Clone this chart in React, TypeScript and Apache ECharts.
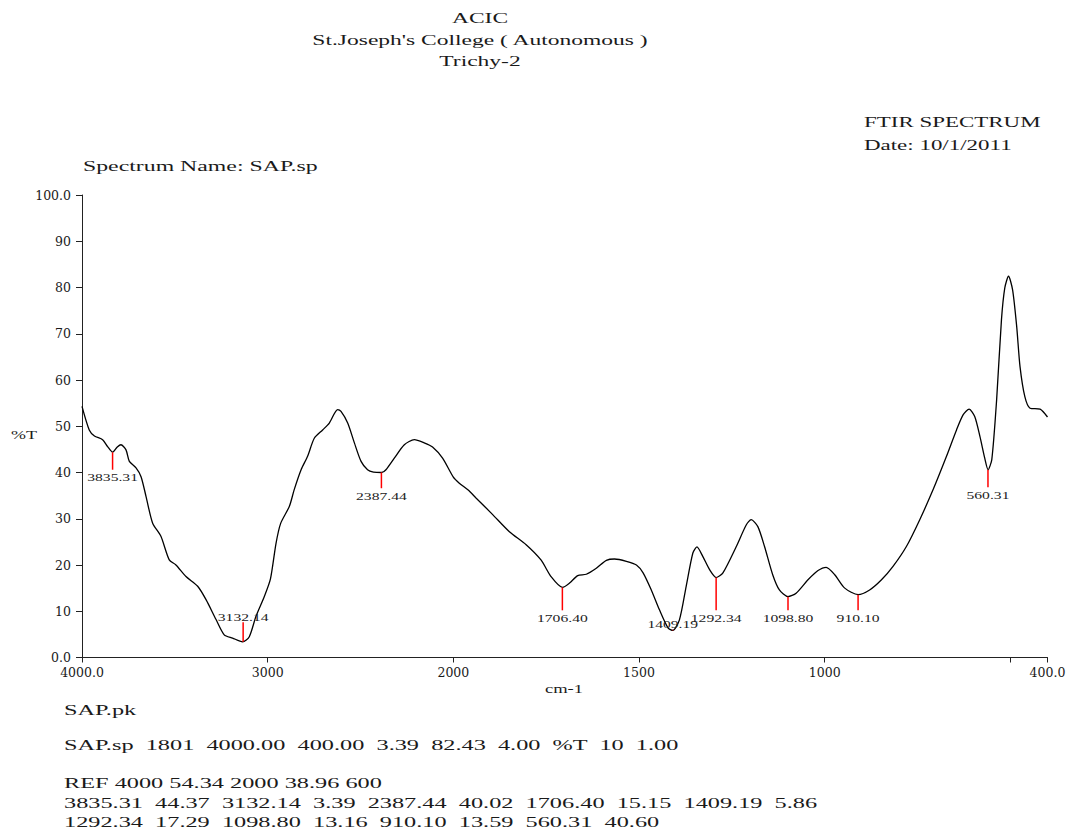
import React, { useEffect, useRef } from "react";
import * as echarts from "echarts";

// Spectrum: wavenumber (cm-1) and transmittance (%T)
const wavenumbers = [
  4000, 3961, 3933, 3889, 3862, 3835, 3810, 3790, 3763, 3745, 3709, 3682, 3655, 3620, 3575, 3530,
  3494, 3440, 3377, 3332, 3278, 3234, 3189, 3135, 3099, 3063, 3018, 2985, 2955, 2930, 2883, 2857,
  2820, 2785, 2749, 2704, 2668, 2623, 2605, 2569, 2533, 2497, 2462, 2430, 2387, 2363, 2318, 2264,
  2210, 2157, 2112, 2058, 2000, 1984, 1960, 1939, 1894, 1849, 1804, 1764, 1737, 1706, 1687, 1665,
  1642, 1615, 1588, 1566, 1534, 1507, 1489, 1467, 1445, 1422, 1409, 1391, 1373, 1355, 1344, 1328,
  1310, 1292, 1274, 1238, 1211, 1198, 1180, 1162, 1140, 1122, 1099, 1077, 1045, 1018, 996, 973,
  946, 910, 879, 847, 816, 780, 744, 708, 672, 645, 627, 611, 596, 582, 569, 560, 550, 537, 524,
  515, 505, 494, 483, 474, 461, 447, 420, 400,
];
const transmittance = [
  54.3, 49.2, 47.9, 47.1, 45.6, 44.4, 45.5, 46.0, 44.9, 42.4, 41.0, 39.1, 34.8, 29.1, 26.2, 21.1,
  20.0, 17.5, 15.4, 12.5, 8.2, 4.9, 4.2, 3.4, 4.5, 8.9, 13.2, 17.0, 24.7, 29.0, 32.7, 36.3,
  40.6, 43.5, 47.4, 49.2, 50.7, 53.6, 53.2, 50.7, 46.4, 42.4, 40.6, 40.1, 40.0, 40.6, 43.1, 46.0,
  47.1, 46.4, 45.5, 43.1, 39.0, 37.7, 36.2, 34.5, 30.9, 27.2, 24.4, 21.1, 17.5, 15.15, 16.1, 17.7,
  18.0, 19.3, 21.0, 21.3, 20.8, 20.0, 18.3, 14.6, 10.3, 6.4, 5.86, 8.2, 15.4, 22.6, 23.9, 21.8,
  19.0, 17.29, 18.3, 24.0, 28.7, 29.8, 28.3, 24.0, 17.9, 14.6, 13.16, 13.9, 16.8, 18.8, 19.5, 17.9,
  15.0, 13.59, 14.6, 16.8, 19.7, 24.0, 29.8, 36.3, 43.5, 49.2, 52.5, 53.7, 52.1, 47.8, 43.1, 40.6, 42.8, 55.7, 73.0,
  79.9, 82.43, 79.5, 71.6, 62.9, 56.4, 53.9, 53.7, 52.0,
];

// Picked peaks
const peakWavenumbers = [3835.31, 3132.14, 2387.44, 1706.4, 1409.19, 1292.34, 1098.8, 910.1, 560.31];
const peakTransmittance = [44.37, 3.39, 40.02, 15.15, 5.86, 17.29, 13.16, 13.59, 40.6];
const peakMarkerEnd = [40.6, 7.6, 36.6, 10.2, 6.0, 10.2, 10.2, 10.2, 36.8];

// Axis ticks (wavenumbers)
const xTickValues = [4000, 3000, 2000, 1500, 1000, 500, 400];
const xLabelValues = [4000, 3000, 2000, 1500, 1000, 400];

// Text blocks
const headerLines = ["ACIC", "St.Joseph's College ( Autonomous )", "Trichy-2"];
const footerLines = [
  "SAP.pk",
  "SAP.sp  1801  4000.00  400.00  3.39  82.43  4.00  %T  10  1.00",
  "REF 4000 54.34 2000 38.96 600",
  "3835.31  44.37  3132.14  3.39  2387.44  40.02  1706.40  15.15  1409.19  5.86",
  "1292.34  17.29  1098.80  13.16  910.10  13.59  560.31  40.60",
];

// 4000-2000 at half scale, 2000-400 at full scale
const toAxis = (w: number) => (w > 2000 ? 2000 + (w - 2000) / 2 : w);
const fromAxis = (u: number) => (u > 2000 ? 2000 + (u - 2000) * 2 : u);

const SERIF = '"Liberation Serif", "Times New Roman", serif';
const TXT = "#1a1a1a";

export default function App() {
  const ref = useRef<HTMLDivElement>(null);

  useEffect(() => {
    if (!ref.current) return;
    const chart = echarts.init(ref.current, undefined, { renderer: "svg" });

    const lineData = wavenumbers.map((w, i) => [toAxis(w), transmittance[i]]);
    const peakData = peakWavenumbers.map((w, i) => [toAxis(w), peakTransmittance[i], peakMarkerEnd[i], w]);

    const txt = (text: string, x: number, y: number, align: string, size: number, sx: number) => ({
      type: "text",
      x,
      y,
      scaleX: sx,
      silent: true,
      style: {
        text,
        font: `${size}px ${SERIF}`,
        fill: TXT,
        textAlign: align,
        textVerticalAlign: "middle",
      },
    });

    const headerY = [18, 40, 61];
    const footerY = [710, 745, 783, 803, 822];

    const graphics: any[] = [
      ...headerLines.map((t, i) => txt(t, 480, headerY[i], "center", 14, 1.68)),
      txt("FTIR SPECTRUM", 864, 122, "left", 14, 1.64),
      txt("Date: 10/1/2011", 864, 145, "left", 14, 1.64),
      txt("Spectrum Name: SAP.sp", 83, 166, "left", 14, 1.7),
      txt("%T", 11, 435, "left", 12, 1.5),
      txt("cm-1", 564, 689, "center", 12, 1.55),
      ...footerLines.map((t, i) => txt(t, 64, footerY[i], "left", 15, 1.62)),
    ];

    chart.setOption({
      animation: false,
      backgroundColor: "#ffffff",
      grid: { left: 82, top: 195, width: 965.5, height: 462.5, containLabel: false },
      xAxis: {
        type: "value",
        min: 400,
        max: 3000,
        inverse: true,
        splitLine: { show: false },
        axisLine: { show: true, onZero: false, lineStyle: { color: "#222", width: 1 } },
        axisTick: {
          show: true,
          inside: false,
          length: 5,
          customValues: xTickValues.map(toAxis),
          lineStyle: { color: "#222" },
        },
        axisLabel: {
          customValues: xLabelValues.map(toAxis),
          margin: 8,
          color: TXT,
          fontFamily: '"DejaVu Serif", serif',
          fontSize: 12.5,
          formatter: (u: number) => {
            const w = Math.round(fromAxis(u));
            return w === 4000 || w === 400 ? w.toFixed(1) : String(w);
          },
        },
      },
      yAxis: {
        type: "value",
        min: 0,
        max: 100,
        interval: 10,
        splitLine: { show: false },
        axisLine: { show: true, lineStyle: { color: "#222", width: 1 } },
        axisTick: { show: true, inside: false, length: 6, lineStyle: { color: "#222" } },
        axisLabel: {
          margin: 11,
          color: TXT,
          fontFamily: '"DejaVu Serif", serif',
          fontSize: 12.5,
          formatter: (v: number) => (v === 0 ? "0.0" : v === 100 ? "100.0" : String(v)),
        },
      },
      graphic: graphics,
      series: [
        {
          type: "line",
          data: lineData,
          showSymbol: false,
          smooth: 0.25,
          lineStyle: { color: "#000", width: 1.3 },
          silent: true,
          z: 3,
        },
        {
          type: "custom",
          data: peakData,
          silent: true,
          z: 4,
          renderItem: (params: any, api: any) => {
            const u = api.value(0);
            const t = api.value(1);
            const e = api.value(2);
            const w = api.value(3);
            const p0 = api.coord([u, t]);
            const p1 = api.coord([u, e]);
            const below = e < t;
            return {
              type: "group",
              children: [
                {
                  type: "line",
                  shape: { x1: p0[0], y1: p0[1], x2: p1[0], y2: p1[1] },
                  style: { stroke: "#ff0000", lineWidth: 1.5 },
                },
                {
                  type: "text",
                  x: p1[0],
                  y: below ? p1[1] + 8 : p1[1] - 5,
                  scaleX: 1.42,
                  style: {
                    text: Number(w).toFixed(2),
                    font: `11px ${SERIF}`,
                    fill: "#222",
                    textAlign: "center",
                    textVerticalAlign: "middle",
                  },
                },
              ],
            };
          },
        },
      ],
    });

    return () => chart.dispose();
  }, []);

  return (
    <div
      ref={ref}
      style={{ position: "fixed", left: 0, top: 0, width: 1072, height: 830, background: "#fff" }}
    />
  );
}
